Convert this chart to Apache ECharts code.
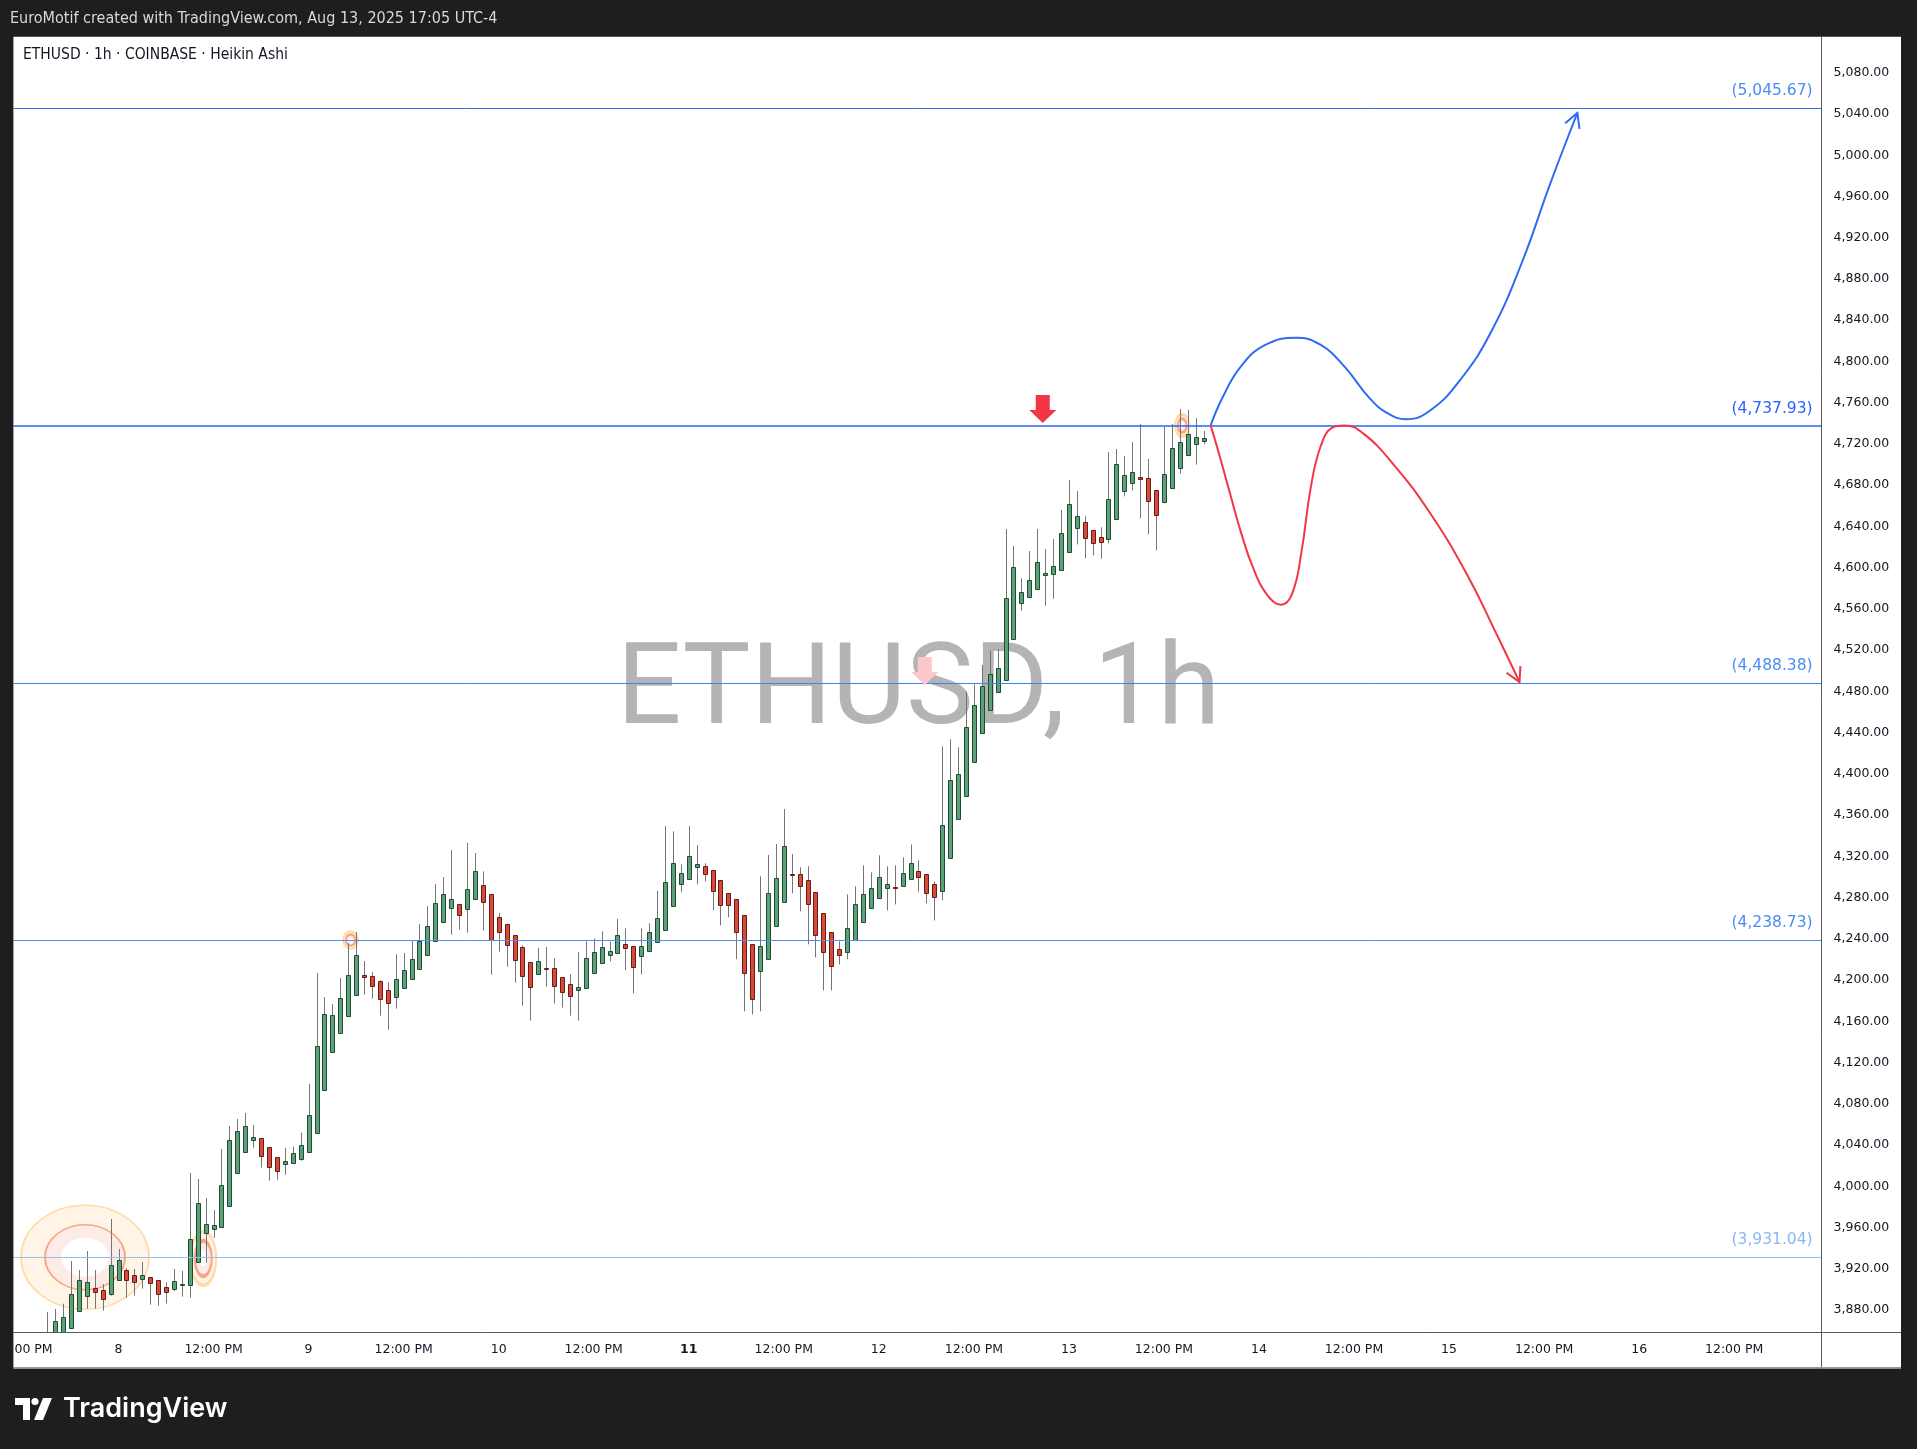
<!DOCTYPE html>
<html><head><meta charset="utf-8">
<script src="https://cdn.jsdelivr.net/npm/echarts@6/dist/echarts.min.js"></script>
<style>html,body{margin:0;padding:0;background:#1e1e1e;}#c{width:1917px;height:1449px;}</style>
</head><body><div id="c"></div>
<script>
// ---------- DATA ----------
// hours relative to Aug 8 2025 00:00 (UTC-4); first candle = Aug 7 15:00
const startHour = -9;
const opens = [3845,3848,3858,3863,3879.4,3893.9,3901.3,3899.4,3895.2,3908.8,
3918.5,3913.6,3909.8,3911.7,3908.8,3902.0,3900.1,3903.9,3903.9,3926.2,
3955.0,3958.9,3960.9,3981.2,4012.6,4032.9,4045.2,4046.5,4037.8,4028.1,
4021.3,4022.3,4026.8,4032.9,4051.4,4093.1,4129.9,4148.4,4164.9,4185.2,
4204.6,4203.7,4198.8,4190.1,4184.0,4192.0,4200.8,4210.5,4224.0,4237.6,
4256.1,4269.6,4273.5,4268.7,4278.4,4291.9,4283.2,4260.9,4254.1,4243.4,
4231.8,4217.3,4205.6,4211.6,4211.4,4202.7,4195.9,4190.1,4192.0,4206.6,
4216.3,4224.0,4226.0,4234.7,4232.8,4223.1,4227.9,4236.6,4248.3,4271.6,
4292.9,4297.7,4309.4,4310.4,4306.5,4296.8,4284.2,4278.4,4262.8,4234.7,
4208.5,4220.2,4252.2,4275.4,4302.8,4302.6,4296.8,4285.2,4264.8,4246.3,
4229.9,4226.9,4238.6,4255.9,4269.5,4279.2,4288.9,4290.7,4290.9,4297.7,
4305.4,4302.5,4292.8,4286.0,4318.0,4355.9,4378.2,4411.2,4439.3,4462.1,
4479.3,4490.7,4530.5,4565.4,4571.2,4579.0,4592.5,4593.5,4597.4,4614.8,
4638.1,4643.9,4636.2,4629.5,4627.5,4646.9,4674.1,4681.8,4687.6,4686.7,
4675.0,4663.4,4677.0,4696.4,4709.0,4719.7,4722.6];
const closes = [3852,3869,3873,3896,3909.1,3907.2,3897.1,3891.0,3923.3,3928.2,
3908.8,3906.8,3913.6,3905.9,3895.2,3897.1,3907.8,3905.0,3948.6,3983.5,
3963.4,3962.5,4000.9,4044.6,4053.3,4058.2,4047.5,4029.1,4018.4,4014.5,
4024.2,4032.0,4039.7,4068.8,4135.8,4166.8,4165.8,4182.3,4204.6,4224.0,
4202.7,4194.0,4181.4,4177.5,4200.8,4209.5,4220.2,4237.6,4252.2,4274.5,
4283.2,4278.4,4262.8,4288.1,4305.5,4275.4,4238.5,4246.3,4233.7,4219.2,
4203.7,4193.0,4218.2,4211.2,4194.0,4188.2,4184.3,4193.0,4221.1,4227.0,
4231.8,4227.9,4243.4,4230.8,4212.4,4232.8,4246.3,4259.9,4294.8,4313.3,
4303.6,4320.1,4312.3,4302.6,4286.1,4272.6,4272.6,4246.3,4206.6,4181.4,
4232.8,4284.2,4298.7,4329.8,4302.4,4291.0,4273.5,4243.4,4226.9,4213.4,
4224.0,4250.2,4273.5,4283.1,4288.9,4299.6,4292.8,4290.3,4303.5,4313.2,
4299.6,4284.1,4280.2,4350.0,4393.7,4399.5,4445.1,4466.4,4484.9,4496.5,
4502.3,4570.2,4600.3,4576.1,4587.7,4605.1,4594.5,4601.3,4633.3,4661.4,
4649.8,4628.4,4623.6,4624.6,4666.3,4700.3,4689.6,4692.5,4685.7,4664.4,
4650.8,4690.6,4715.8,4721.6,4729.4,4726.4,4725.5];
const lows = [3835,3840,3850,3863,3879.4,3881.3,3881.3,3879.4,3893.9,3908.8,
3892.0,3893.9,3900.7,3885.2,3884.2,3886.2,3898.1,3893.0,3892.0,3926.2,
3926.2,3950.0,3960.9,3981.2,4012.6,4032.9,4037.5,4018.1,4005.5,4006.4,
4011.3,4022.3,4024.9,4032.9,4051.4,4093.1,4129.9,4148.4,4164.9,4185.2,
4185.9,4182.0,4165.5,4151.9,4172.3,4192.0,4200.8,4210.5,4224.0,4237.6,
4256.1,4244.1,4248.9,4246.0,4278.4,4248.0,4205.3,4227.6,4213.0,4197.5,
4175.2,4160.7,4205.6,4193.6,4177.2,4173.3,4165.5,4160.7,4192.0,4206.6,
4216.3,4218.2,4226.0,4209.5,4187.2,4205.6,4227.9,4236.6,4248.3,4271.6,
4285.2,4297.7,4292.9,4295.8,4267.7,4253.1,4260.9,4220.2,4169.7,4166.8,
4169.7,4220.2,4252.2,4275.4,4284.2,4266.7,4234.7,4222.1,4190.1,4190.1,
4215.3,4220.2,4238.6,4255.9,4269.5,4279.2,4267.6,4273.4,4290.9,4297.7,
4285.7,4274.4,4257.9,4277.3,4318.0,4355.9,4378.2,4411.2,4439.3,4462.1,
4479.3,4490.7,4530.5,4558.3,4571.2,4579.0,4563.1,4569.9,4597.4,4614.8,
4622.6,4609.0,4611.9,4608.8,4623.6,4646.9,4669.2,4675.0,4647.9,4632.4,
4616.8,4662.4,4677.0,4691.2,4709.0,4699.9,4719.7];
const highs = [3878,3881,3886,3927.5,3918.8,3937.2,3918.8,3905.2,3968.3,3939.2,
3920.4,3919.8,3926.6,3911.7,3908.8,3906.8,3919.8,3917.9,4012.9,4007.1,
3988.7,3977.0,4036.2,4058.5,4065.3,4071.1,4059.5,4046.5,4037.8,4028.1,
4037.2,4038.5,4052.0,4099.2,4206.9,4183.6,4176.8,4202.0,4235.7,4246.7,
4218.5,4207.9,4200.0,4197.8,4225.0,4226.3,4238.9,4254.4,4271.9,4293.2,
4300.0,4326.2,4273.5,4333.0,4323.3,4305.5,4283.2,4265.1,4254.1,4243.4,
4233.7,4217.3,4231.1,4232.1,4221.1,4202.7,4205.6,4227.0,4237.6,4240.5,
4247.3,4237.0,4259.3,4250.2,4232.8,4250.2,4255.1,4286.4,4349.5,4344.3,
4312.3,4349.5,4330.7,4313.3,4306.5,4296.8,4284.2,4278.4,4262.8,4234.7,
4300.7,4321.4,4332.0,4366.0,4322.3,4309.4,4310.4,4285.2,4264.8,4246.3,
4237.6,4283.2,4291.0,4311.3,4304.5,4321.0,4310.3,4311.3,4319.0,4331.6,
4316.1,4302.5,4295.7,4426.7,4433.5,4425.7,4480.0,4486.8,4505.6,4519.8,
4521.1,4637.5,4621.0,4589.6,4616.1,4637.5,4618.1,4627.8,4655.9,4685.0,
4674.3,4649.8,4636.2,4639.1,4712.2,4715.1,4708.3,4721.9,4739.4,4705.4,
4675.0,4736.5,4739.4,4753.9,4753.0,4745.2,4732.6];

const levels = [5045.67, 4737.93, 4488.38, 4238.73, 3931.04];
const levelLabels = ['(5,045.67)', '(4,737.93)', '(4,488.38)', '(4,238.73)', '(3,931.04)'];
const priceTicks = [3880,3920,3960,4000,4040,4080,4120,4160,4200,4240,4280,4320,4360,4400,4440,4480,
  4520,4560,4600,4640,4680,4720,4760,4800,4840,4880,4920,4960,5000,5040,5080];
const timeTicks = [-12,0,12,24,36,48,60,72,84,96,108,120,132,144,156,168,180,192,204];
const dayNames = {0:'8',24:'9',48:'10',72:'11',96:'12',120:'13',144:'14',168:'15',192:'16'};

// projected paths (hour, price)
const bluePath = [[137.9,4738],[139.4,4765],[141.7,4795],[144.8,4816],[148.7,4823],[151.8,4816],
  [154.8,4795],[157.9,4765],[160.2,4750],[162.6,4744],[165.7,4753],[169.5,4783],[173.4,4830],
  [177.2,4896],[180.8,4973],[184.2,5041]];
const redPath = [[137.9,4738],[138.9,4712],[140.2,4676],[141.7,4635],[143.3,4599],[145.1,4573],
  [146.8,4564],[148.2,4575],[149.4,4617],[150.5,4676],[151.8,4718],[153.3,4736],[154.8,4738],
  [157.2,4730],[161.0,4700],[165.6,4653],[170.3,4593],[174.1,4534],[176.9,4489]];

// highlight markers (hour, price, kind) and arrow markers (hour, price at tip, kind)
const highlights = [[-4.23,3931.2,'big'],[10.7,3930,'tall'],[29.3,4238.8,'small'],[134.3,4737.9,'smallTall']];
const arrowMarks = [[101.8,4486.2,'faded'],[116.7,4740.4,'solid']];

// ---------- STYLE ----------
const UP_FILL='#5e9f78', UP_BORDER='#1b4d31', DN_FILL='#d64a3b', DN_BORDER='#6b1a13', WICK='#757575';
const LEVEL_COLORS=['#2f6ff2','#2962ff','#3b82f6','#4a8ff5','#93bdf7'];
const LEVEL_WIDTHS=[1,1.6,1,1,1];
const LEVEL_TEXT=['#4b8df6','#2962ff','#4b8df6','#4b8df6','#8ab8f5'];
const HL = {
  big:{o:[64,52],m:[40,32],i:[24,19]},
  tall:{o:[13,27],m:[8.5,17],i:[4,9]},
  small:{o:[7.5,8.7],m:[4.8,5.5],i:[2.3,2.7]},
  smallTall:{o:[7.2,11.2],m:[4.5,7.5],i:[2,4]}
};
const H_MIN=-13.26, H_MAX=215.04, P_MIN=3858.1, P_MAX=5115.0;
const FONT_UI = "'DejaVu Sans', sans-serif";
const FONT_NARROW = "'Liberation Sans Narrow', 'DejaVu Sans Condensed', sans-serif";

const candleData = opens.map((o,i)=>[startHour+i, o, closes[i], lows[i], highs[i]]);

function renderCandle(params, api){
  const h=api.value(0), o=api.value(1), c=api.value(2), l=api.value(3), hi=api.value(4);
  const pO=api.coord([h,o]), pC=api.coord([h,c]), pL=api.coord([h,l]), pH=api.coord([h,hi]);
  const x=Math.round(pO[0])+0.5;
  const up=c>=o;
  const top=Math.round(Math.min(pO[1],pC[1]))+0.5, bot=Math.round(Math.max(pO[1],pC[1]))+0.5;
  return {type:'group', children:[
    {type:'line', shape:{x1:x,y1:pH[1],x2:x,y2:pL[1]}, style:{stroke:WICK,lineWidth:1}},
    {type:'rect', shape:{x:x-2,y:top,width:4,height:Math.max(bot-top,1)},
     style:{fill:up?UP_FILL:DN_FILL, stroke:up?UP_BORDER:DN_BORDER, lineWidth:1}}
  ]};
}
function renderHighlight(params, api){
  const p=api.coord([api.value(0),api.value(1)]);
  const k=HL[highlights[params.dataIndex][2]];
  const rx=k.o[0], s=k.o[1]/k.o[0], mr=k.m[0], ir=k.i[0];
  return {type:'group', x:p[0], y:p[1], scaleY:s, children:[
    {type:'ring', shape:{cx:0,cy:0,r:rx,r0:mr}, style:{fill:'rgba(255,152,0,0.10)'}},
    {type:'ring', shape:{cx:0,cy:0,r:mr,r0:ir}, style:{fill:'rgba(242,90,60,0.12)'}},
    {type:'circle', shape:{cx:0,cy:0,r:rx}, style:{fill:'none',stroke:'rgba(255,152,0,0.30)',lineWidth:2}},
    {type:'circle', shape:{cx:0,cy:0,r:mr}, style:{fill:'none',stroke:'rgba(240,110,50,0.55)',lineWidth:2}}
  ]};
}
function renderArrowMark(params, api){
  const p=api.coord([api.value(0),api.value(1)]);
  const faded=arrowMarks[params.dataIndex][2]==='faded';
  const x=p[0], y=p[1];
  return {type:'polygon', z2:10, shape:{points:[[x-7,y-28],[x+7,y-28],[x+7,y-13],[x+13.5,y-13],[x,y],[x-13.5,y-13],[x-7,y-13]]},
    style:{fill: faded?'#fcc7cb':'#f23645'}};
}
const pathHeads=[[bluePath,'#2f6bf2'],[redPath,'#f23645']];
function renderHead(params, api){
  const path=pathHeads[params.dataIndex][0], col=pathHeads[params.dataIndex][1];
  const a=path[path.length-1], b=path[path.length-2];
  const pa=api.coord(a), pb=api.coord(b);
  const ang=Math.atan2(pa[1]-pb[1], pa[0]-pb[0]);
  const L=16, sp=0.5;
  const p1=[pa[0]-L*Math.cos(ang-sp), pa[1]-L*Math.sin(ang-sp)];
  const p2=[pa[0]-L*Math.cos(ang+sp), pa[1]-L*Math.sin(ang+sp)];
  return {type:'polyline', shape:{points:[p1,pa,p2]}, style:{stroke:col,lineWidth:2,fill:'none'}};
}

const chart = echarts.init(document.getElementById('c'), null, {renderer:'canvas'});
const option = {
  backgroundColor:'#ffffff',
  animation:false,
  grid:{left:13.5, right:1917-1821.6, top:36.7, bottom:1449-1332.6, show:false, containLabel:false, outerBoundsMode:'none'},
  xAxis:{type:'value', min:H_MIN, max:H_MAX, axisLine:{show:false}, axisTick:{show:false}, splitLine:{show:false},
    axisLabel:{customValues:timeTicks, margin:11, fontSize:12.5, color:'#131722', fontFamily:FONT_UI,
      formatter:v=> (dayNames[v]!==undefined ? (v===72?'{b|11}':dayNames[v]) : '12:00 PM'),
      rich:{b:{fontWeight:'bold',fontSize:12.5,color:'#131722',fontFamily:FONT_UI}}}},
  yAxis:{type:'value', position:'right', min:P_MIN, max:P_MAX, scale:true,
    axisLine:{show:false}, axisTick:{show:false}, splitLine:{show:false},
    axisLabel:{customValues:priceTicks, margin:12, fontSize:12.5, color:'#131722', fontFamily:FONT_UI,
      formatter:v=>v.toLocaleString('en-US',{minimumFractionDigits:2,maximumFractionDigits:2})}},
  series:[
    {type:'custom', name:'highlights', renderItem:renderHighlight, data:highlights.map(d=>[d[0],d[1]]),
      encode:{x:0,y:1}, clip:true, z:1, silent:true},
    {type:'line', name:'levels', data:[], showSymbol:false, z:2, silent:true,
      markLine:{silent:true, symbol:['none','none'], animation:false,
        data: levels.map((v,i)=>({yAxis:v,
          lineStyle:{color:LEVEL_COLORS[i],width:LEVEL_WIDTHS[i],type:'solid'},
          label:{show:true, position:'insideEndTop', formatter:levelLabels[i], color:LEVEL_TEXT[i],
            fontSize:15.5, fontFamily:FONT_UI, distance:[9,9]}}))}},
    {type:'custom', name:'ETHUSD', renderItem:renderCandle, data:candleData,
      encode:{x:0,y:[1,2,3,4]}, clip:true, z:3},
    {type:'custom', name:'arrows', renderItem:renderArrowMark, data:arrowMarks.map(d=>[d[0],d[1]]),
      encode:{x:0,y:1}, clip:false, z:6, silent:true},
    {type:'line', name:'bull', data:bluePath, smooth:0.45, showSymbol:false, z:5,
      lineStyle:{color:'#2f6bf2',width:2}, silent:true},
    {type:'line', name:'bear', data:redPath, smooth:0.45, showSymbol:false, z:5,
      lineStyle:{color:'#f23645',width:2}, silent:true},
    {type:'custom', name:'heads', renderItem:renderHead, data:[[0,0],[0,0]], encode:{x:0,y:1}, z:5, silent:true}
  ],
  graphic:[
    {type:'text', z:-1, x:918.5, y:694,
      style:{text:'ETHUSD, 1h', font:"114px Roboto, sans-serif", fill:'#b4b4b4', textAlign:'center', textVerticalAlign:'middle'}},
    // frame
    {type:'rect', z:100, shape:{x:0,y:0,width:1917,height:36.7}, style:{fill:'#1e1e1e'}},
    {type:'rect', z:100, shape:{x:0,y:1368.5,width:1917,height:81}, style:{fill:'#1e1e1e'}},
    {type:'rect', z:100, shape:{x:0,y:0,width:13.4,height:1449}, style:{fill:'#1e1e1e'}},
    {type:'rect', z:100, shape:{x:1901,y:0,width:16,height:1449}, style:{fill:'#1e1e1e'}},
    {type:'line', z:99, shape:{x1:13.4,y1:1332.5,x2:1901,y2:1332.5}, style:{stroke:'#5a5a5a',lineWidth:1}},
    {type:'line', z:99, shape:{x1:1821.5,y1:36.7,x2:1821.5,y2:1368.5}, style:{stroke:'#5a5a5a',lineWidth:1}},
    {type:'line', z:99, shape:{x1:13.4,y1:1367.5,x2:1901,y2:1367.5}, style:{stroke:'#9a9a9a',lineWidth:1}},
    {type:'text', z:101, x:10, y:18.5, style:{text:'EuroMotif created with TradingView.com, Aug 13, 2025 17:05 UTC-4',
      font:"16px " + FONT_NARROW, fill:'#d8d8d8', textVerticalAlign:'middle'}},
    {type:'text', z:101, x:23, y:55, style:{text:'ETHUSD · 1h · COINBASE · Heikin Ashi',
      font:"15.5px " + FONT_NARROW, fill:'#131722', textVerticalAlign:'middle'}},
    // TradingView logo
    {type:'polygon', z:101, shape:{points:[[15,1398],[30,1398],[30,1420],[23,1420],[23,1405],[15,1405]]}, style:{fill:'#ffffff'}},
    {type:'circle', z:101, shape:{cx:35,cy:1401.5,r:3.6}, style:{fill:'#ffffff'}},
    {type:'polygon', z:101, shape:{points:[[43,1398],[52,1398],[43,1420],[34,1420]]}, style:{fill:'#ffffff'}},
    {type:'text', z:101, x:63, y:1409, style:{text:'TradingView', font:"600 27px Inter, Roboto, sans-serif", fill:'#ffffff', textVerticalAlign:'middle'}}
  ]
};
chart.setOption(option);
</script></body></html>
